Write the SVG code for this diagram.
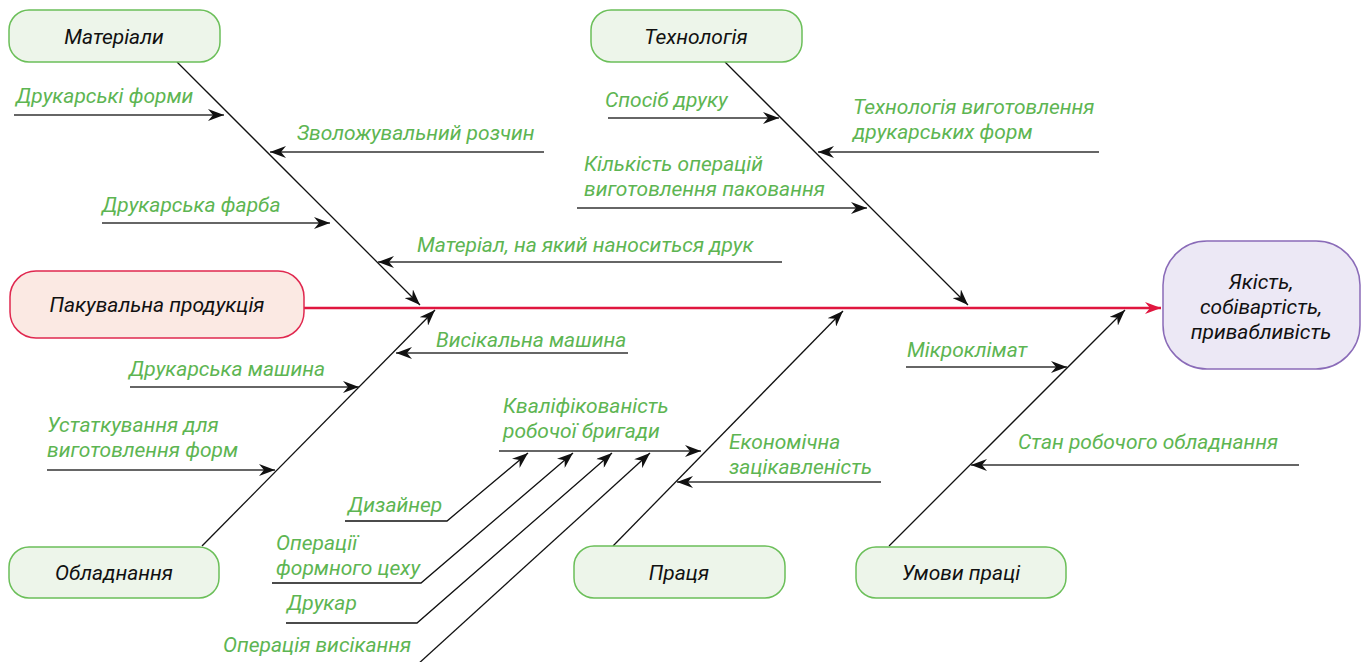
<svg xmlns="http://www.w3.org/2000/svg" width="1364" height="662" viewBox="0 0 1364 662">
<style>
.box{fill:#edf5ea;stroke:#6bbf59;stroke-width:1.5}
.bt{font-family:Roboto,"Noto Sans",sans-serif;font-style:italic;font-size:21px;fill:#111;text-anchor:middle}
.lb{font-family:Roboto,"Noto Sans",sans-serif;font-style:italic;font-size:21px;fill:#5db552}
.sp{fill:none;stroke:#111;stroke-width:1.3}
.hz{fill:none;stroke:#333;stroke-width:1.6}
</style>
<defs>
<marker id="ah" viewBox="0 0 16 12" refX="16" refY="6" markerWidth="16" markerHeight="12" orient="auto" markerUnits="userSpaceOnUse"><path d="M0,0 L16,6 L0,12 L5,6 z" fill="#111"/></marker>
<marker id="ar" viewBox="0 0 16 12" refX="16" refY="6" markerWidth="16" markerHeight="12" orient="auto" markerUnits="userSpaceOnUse"><path d="M0,0 L16,6 L0,12 L5,6 z" fill="#e0163f"/></marker>
</defs>
<rect width="1364" height="662" fill="#fff"/>
<g id="connectors">
<path d="M304,308 L1161,308" fill="none" stroke="#e0163f" stroke-width="2.6" marker-end="url(#ar)"/>
<path class="sp" d="M177,62 L420,305" marker-end="url(#ah)"/>
<path class="sp" d="M725,62 L968,305" marker-end="url(#ah)"/>
<path class="sp" d="M202,546 L435,310" marker-end="url(#ah)"/>
<path class="sp" d="M613,546 L843,311" marker-end="url(#ah)"/>
<path class="sp" d="M889,546 L1125,310" marker-end="url(#ah)"/>
<path class="hz" d="M14,115 L224,115" marker-end="url(#ah)"/>
<path class="hz" d="M544,152 L270,152" marker-end="url(#ah)"/>
<path class="hz" d="M102,223 L330,223" marker-end="url(#ah)"/>
<path class="hz" d="M782,262 L378,262" marker-end="url(#ah)"/>
<path class="hz" d="M608,118 L779,118" marker-end="url(#ah)"/>
<path class="hz" d="M1099,152 L818,152" marker-end="url(#ah)"/>
<path class="hz" d="M577,208 L867,208" marker-end="url(#ah)"/>
<path class="hz" d="M628,353 L396,353" marker-end="url(#ah)"/>
<path class="hz" d="M130,387 L359,387" marker-end="url(#ah)"/>
<path class="hz" d="M47,470 L275,470" marker-end="url(#ah)"/>
<path class="hz" d="M499,451 L701,451" marker-end="url(#ah)"/>
<path class="hz" d="M881,482 L677,482" marker-end="url(#ah)"/>
<path class="hz" d="M906,367 L1067,367" marker-end="url(#ah)"/>
<path class="hz" d="M1299,465 L971,465" marker-end="url(#ah)"/>
<path class="sp" d="M345,521 L447,521 L528,453" marker-end="url(#ah)"/>
<path class="sp" d="M272,583 L421,583 L573,453" marker-end="url(#ah)"/>
<path class="sp" d="M286,623 L417,623 L612,453" marker-end="url(#ah)"/>
<path class="sp" d="M417,665 L650,453" marker-end="url(#ah)"/>
</g>
<g id="n-materialy"><rect class="box" x="9" y="10" width="211" height="52" rx="20"/><text class="bt" x="114" y="44">Матеріали</text></g>
<g id="n-tekhnolohiia"><rect class="box" x="591" y="10" width="211" height="52" rx="20"/><text class="bt" x="696" y="44">Технологія</text></g>
<g id="n-obladnannia"><rect class="box" x="9" y="547" width="210" height="51" rx="20"/><text class="bt" x="114" y="580">Обладнання</text></g>
<g id="n-pratsia"><rect class="box" x="574" y="546" width="211" height="52" rx="20"/><text class="bt" x="679" y="580">Праця</text></g>
<g id="n-umovy"><rect class="box" x="856" y="547" width="210" height="51" rx="20"/><text class="bt" x="961" y="580">Умови праці</text></g>
<g id="n-produktsiia"><rect x="10" y="271" width="294" height="67" rx="26" fill="#fbe9e3" stroke="#e0284f" stroke-width="1.5"/><text class="bt" x="157" y="312">Пакувальна продукція</text></g>
<g id="n-result"><rect x="1163" y="241" width="197" height="128" rx="44" fill="#ece8f5" stroke="#8a6bb8" stroke-width="1.5"/><text class="bt" x="1261" y="289">Якість,</text><text class="bt" x="1261" y="314">собівартість,</text><text class="bt" x="1261" y="339">привабливість</text></g>
<g id="labels">
<text class="lb" x="16" y="103">Друкарські форми</text>
<text class="lb" x="297" y="140">Зволожувальний розчин</text>
<text class="lb" x="102" y="212">Друкарська фарба</text>
<text class="lb" x="417" y="252">Матеріал, на який наноситься друк</text>
<text class="lb" x="605" y="107">Спосіб друку</text>
<text class="lb" x="853" y="114">Технологія виготовлення</text>
<text class="lb" x="853" y="139">друкарських форм</text>
<text class="lb" x="584" y="171">Кількість операцій</text>
<text class="lb" x="584" y="196">виготовлення паковання</text>
<text class="lb" x="436" y="347">Висікальна машина</text>
<text class="lb" x="129" y="376">Друкарська машина</text>
<text class="lb" x="47" y="432">Устаткування для</text>
<text class="lb" x="47" y="457">виготовлення форм</text>
<text class="lb" x="503" y="413">Кваліфікованість</text>
<text class="lb" x="503" y="438">робочої бригади</text>
<text class="lb" x="729" y="449">Економічна</text>
<text class="lb" x="729" y="474">зацікавленість</text>
<text class="lb" x="907" y="357">Мікроклімат</text>
<text class="lb" x="1018" y="449">Стан робочого обладнання</text>
<text class="lb" x="348" y="512">Дизайнер</text>
<text class="lb" x="276" y="550">Операції</text>
<text class="lb" x="276" y="575">формного цеху</text>
<text class="lb" x="287" y="610">Друкар</text>
<text class="lb" x="223" y="652">Операція висікання</text>
</g>
</svg>
